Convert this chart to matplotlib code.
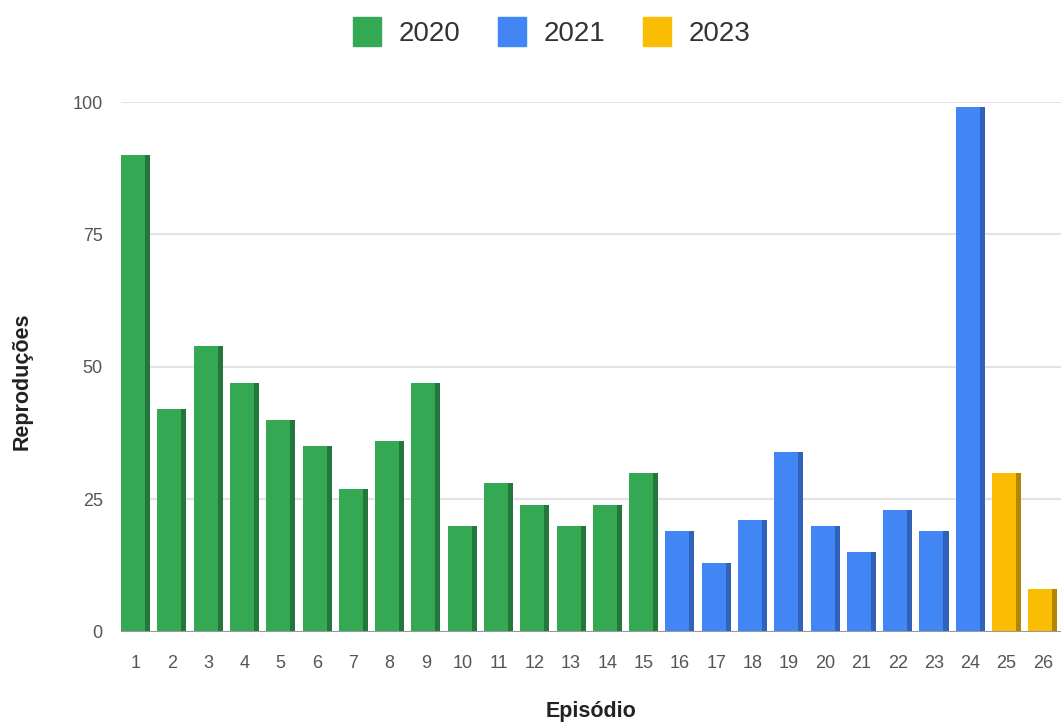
import numpy as np
import matplotlib.pyplot as plt
from matplotlib.patches import Patch

plt.rcParams['font.family'] = ['Liberation Sans', 'DejaVu Sans']

# dados
episodios = list(range(1, 27))
reproducoes = [90, 42, 54, 47, 40, 35, 27, 36, 47, 20, 28, 24, 20, 24, 30,
               19, 13, 21, 34, 20, 15, 23, 19, 99,
               30, 8]
anos = ['2020'] * 15 + ['2021'] * 9 + ['2023'] * 2

cores = {'2020': '#34A853', '2021': '#4285F4', '2023': '#FBBC04'}
lados = {'2020': '#23773A', '2021': '#2F62B8', '2023': '#B38600'}

fig = plt.figure(figsize=(10.61, 7.24), dpi=100)
ax = fig.add_axes([0.1138, 0.1275, 0.8862, 0.7316])

largura = 0.8
lado = 0.14
x = np.array(episodios)
y = np.array(reproducoes)
c_frente = [cores[a] for a in anos]
c_lado = [lados[a] for a in anos]

# frente da barra e lateral escura (efeito 3D)
ax.bar(x - largura / 2, y, width=largura - lado, align='edge', color=c_frente, zorder=3)
ax.bar(x + largura / 2 - lado, y, width=lado, align='edge', color=c_lado, zorder=3)

ax.set_xlim(0.59, 26.5)
ax.set_ylim(0, 100)
ax.set_yticks([0, 25, 50, 75, 100])
ax.set_xticks(episodios)
ax.grid(axis='y', color='#e3e3e3', linewidth=1.5, zorder=0)
for s in ax.spines.values():
    s.set_visible(False)
ax.axhline(0, color='#999999', linewidth=1.5, zorder=4)
ax.tick_params(axis='both', length=0, labelcolor='#555555', labelsize=13)
ax.tick_params(axis='y', pad=13)
ax.tick_params(axis='x', pad=17)

fig.text(22 / 1061, 1 - 381 / 724, 'Reproduções', rotation=90, ha='center', va='center',
         fontsize=15.5, fontweight='bold', color='#222222')
fig.text(591 / 1061, 1 - 711 / 724, 'Episódio', ha='center', va='center',
         fontsize=15.5, fontweight='bold', color='#222222')

handles = [Patch(color=cores[a], label=a) for a in ['2020', '2021', '2023']]
fig.legend(handles=handles, loc='center', bbox_to_anchor=(552 / 1061, 1 - 32 / 724),
           ncol=3, frameon=False, fontsize=20, handlelength=1.0, handleheight=1.2,
           handletextpad=0.65, columnspacing=1.35, labelcolor='#333333')

fig.savefig('out.png', dpi=100)
